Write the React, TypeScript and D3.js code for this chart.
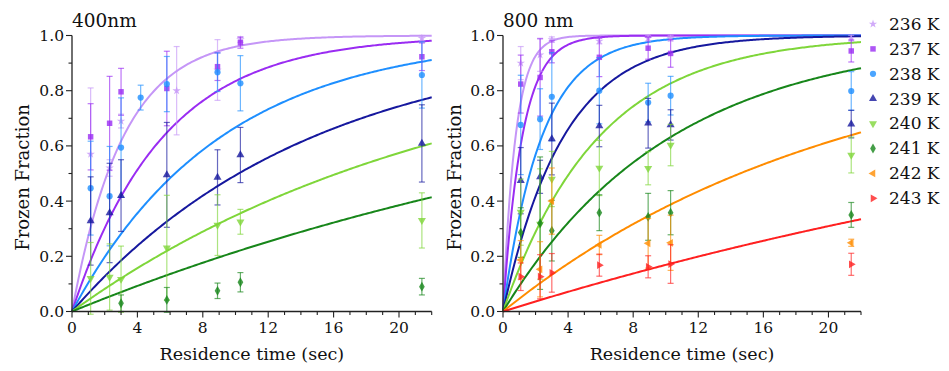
import React from 'react';
import * as d3 from 'd3';

// ---------- data ----------
const temps = ['236 K', '237 K', '238 K', '239 K', '240 K', '241 K', '242 K', '243 K'];
const colors = ['#c596f7', '#9a2cf2', '#1e8fff', '#16189e', '#7fd63a', '#17861a', '#ff8c00', '#ff2020'];
const xTicks = [0, 4, 8, 12, 16, 20];
const yTicks = [0, 0.2, 0.4, 0.6, 0.8, 1.0];

// fitted rate constants (1/s): F = 1 - exp(-k t)
const kLeft = [0.32, 0.18, 0.11, 0.068, 0.0427, 0.0243];
const kRight = [1.3, 0.85, 0.42, 0.27, 0.17, 0.097, 0.0476, 0.0185];

// measured points [time, fraction, error]
const left236 = [[1.14, 0.57, 0.24], [2.3, 0.52, 0.03], [3.0, 0.69, 0.025], [6.4, 0.80, 0.16], [8.9, 0.875, 0.11], [10.3, 0.985, 0.01], [21.4, 0.99, 0.01]];
const left237 = [[1.14, 0.633, 0.12], [2.3, 0.682, 0.17], [3.0, 0.796, 0.085], [5.8, 0.808, 0.135], [8.9, 0.887, 0.05], [10.3, 0.974, 0.02], [21.4, 0.923, 0.05]];
const left238 = [[1.14, 0.447, 0.17], [2.3, 0.418, 0.18], [3.0, 0.594, 0.18], [4.2, 0.775, 0.045], [5.8, 0.824, 0.1], [8.9, 0.867, 0.07], [10.3, 0.827, 0.1], [21.4, 0.857, 0.12]];
const left239 = [[1.14, 0.328, 0.16], [2.3, 0.357, 0.18], [3.0, 0.42, 0.13], [5.8, 0.495, 0.19], [8.9, 0.486, 0.1], [10.3, 0.567, 0.1], [21.4, 0.609, 0.14]];
const left240 = [[1.14, 0.12, 0.13], [2.3, 0.125, 0.12], [3.0, 0.117, 0.12], [5.8, 0.231, 0.19], [8.9, 0.313, 0.11], [10.3, 0.325, 0.045], [21.4, 0.33, 0.1]];
const left241 = [[3.0, 0.03, 0.03], [5.8, 0.042, 0.045], [8.9, 0.075, 0.028], [10.3, 0.106, 0.035], [21.4, 0.09, 0.03]];

const right236 = [[1.09, 0.90, 0.06], [2.28, 0.93, 0.06], [3.0, 0.985, 0.01], [5.92, 0.98, 0.01], [8.92, 0.99, 0.01], [10.3, 0.99, 0.01], [21.4, 0.99, 0.01]];
const right237 = [[1.09, 0.824, 0.105], [2.28, 0.848, 0.14], [3.0, 0.941, 0.04], [5.92, 0.921, 0.07], [8.92, 0.954, 0.04], [10.3, 0.935, 0.05], [21.4, 0.944, 0.04]];
const right238 = [[1.09, 0.676, 0.18], [2.28, 0.697, 0.11], [3.0, 0.778, 0.16], [5.92, 0.80, 0.12], [8.92, 0.757, 0.07], [10.3, 0.782, 0.07], [21.4, 0.799, 0.07]];
const right239 = [[1.09, 0.474, 0.12], [2.28, 0.488, 0.06], [3.0, 0.625, 0.13], [5.92, 0.672, 0.075], [8.92, 0.682, 0.09], [10.3, 0.676, 0.055], [21.4, 0.679, 0.05]];
const right240 = [[1.09, 0.36, 0.12], [2.28, 0.317, 0.2], [3.0, 0.48, 0.1], [5.92, 0.52, 0.1], [8.92, 0.519, 0.06], [10.3, 0.603, 0.075], [21.4, 0.567, 0.065]];
const right241 = [[1.09, 0.286, 0.09], [2.28, 0.32, 0.24], [3.0, 0.293, 0.11], [5.92, 0.358, 0.065], [8.92, 0.343, 0.085], [10.3, 0.358, 0.08], [21.4, 0.35, 0.045]];
const right242 = [[1.09, 0.187, 0.07], [2.28, 0.153, 0.1], [3.0, 0.40, 0.12], [5.92, 0.241, 0.035], [8.92, 0.247, 0.09], [10.3, 0.249, 0.1], [21.4, 0.249, 0.013]];
const right243 = [[1.09, 0.126, 0.05], [2.28, 0.126, 0.08], [3.0, 0.14, 0.07], [5.92, 0.168, 0.04], [8.92, 0.162, 0.04], [10.3, 0.172, 0.07], [21.4, 0.171, 0.04]];

const leftData = [left236, left237, left238, left239, left240, left241];
const rightData = [right236, right237, right238, right239, right240, right241, right242, right243];

// symbol per series: [d3 symbol, rotation, size]
const symbolDefs: [d3.SymbolType, number, number][] = [
  [d3.symbolStar, 0, 22],
  [d3.symbolSquare, 0, 30],
  [d3.symbolCircle, 0, 30],
  [d3.symbolTriangle, 0, 28],
  [d3.symbolTriangle, 180, 28],
  [d3.symbolDiamond, 0, 28],
  [d3.symbolTriangle, -90, 26],
  [d3.symbolTriangle, 90, 26],
];

const FONT = '"DejaVu Serif", serif';

type PanelProps = {
  x0: number; x1: number; title: string; data: number[][][]; ks: number[];
  labelX: number;
};

function Panel({ x0, x1, title, data, ks, labelX }: PanelProps) {
  const yTop = 35.5, yBot = 311.5;
  const x = d3.scaleLinear().domain([0, 22]).range([x0, x1]);
  const y = d3.scaleLinear().domain([0, 1]).range([yBot, yTop]);
  const ts = d3.range(0, 22.001, 0.1);
  const minorX = d3.range(0, 23, 1);
  const minorY = d3.range(0, 1.001, 0.1);
  return (
    <g>
      {ks.map((k, i) => {
        const path = d3.line<number>().x(t => x(t)).y(t => y(1 - Math.exp(-k * t)))(ts) || '';
        return <path key={'c' + i} d={path} fill="none" stroke={colors[i]} strokeWidth={2} />;
      })}
      {data.map((series, i) => {
        const [sym, rot, size] = symbolDefs[i];
        const sp = d3.symbol().type(sym).size(size)() || '';
        return (
          <g key={'s' + i}>
            {series.map(([t, v, e], j) => {
              const cx = x(t), cy = y(v);
              const yh = y(Math.min(v + e, 1.0)), yl = y(v - e);
              return (
                <g key={j}>
                  <g stroke={colors[i]} strokeOpacity={0.65} strokeWidth={1.2}>
                    <line x1={cx} x2={cx} y1={yh} y2={yl} />
                    <line x1={cx - 3} x2={cx + 3} y1={yh} y2={yh} />
                    <line x1={cx - 3} x2={cx + 3} y1={yl} y2={yl} />
                  </g>
                  <path d={sp} transform={`translate(${cx},${cy}) rotate(${rot})`} fill={colors[i]} fillOpacity={0.8} />
                </g>
              );
            })}
          </g>
        );
      })}
      <line x1={x0} x2={x1} y1={yBot} y2={yBot} stroke="#222" strokeWidth={1.3} />
      <line x1={x0} x2={x0} y1={yBot} y2={yTop} stroke="#222" strokeWidth={1.3} />
      {minorX.map(t => (
        <line key={'mx' + t} x1={x(t)} x2={x(t)} y1={yBot} y2={yBot + (t % 4 === 0 ? 6 : 3.5)} stroke="#222" strokeWidth={1.1} />
      ))}
      {minorY.map((v, i) => (
        <line key={'my' + i} x1={x0} x2={x0 - (i % 2 === 0 ? 6 : 3.5)} y1={y(v)} y2={y(v)} stroke="#222" strokeWidth={1.1} />
      ))}
      {xTicks.map(t => (
        <text key={'xt' + t} x={x(t)} y={333} textAnchor="middle" fontFamily={FONT} fontSize={15.5} fill="#111">{t}</text>
      ))}
      {yTicks.map(v => (
        <text key={'yt' + v} x={x0 - 8} y={y(v) + 5.5} textAnchor="end" fontFamily={FONT} fontSize={15.5} fill="#111">{v.toFixed(1)}</text>
      ))}
      <text x={(x0 + x(22)) / 2} y={360} textAnchor="middle" fontFamily={FONT} fontSize={17.5} fill="#111">Residence time (sec)</text>
      <text transform={`translate(${labelX},${(yTop + yBot) / 2 + 4}) rotate(-90)`} textAnchor="middle" fontFamily={FONT} fontSize={18} fill="#111">Frozen Fraction</text>
      <text x={x0} y={26.5} fontFamily={FONT} fontSize={18.5} fill="#111">{title}</text>
    </g>
  );
}

export default function App() {
  return (
    <svg width={949} height={371} style={{ position: 'absolute', left: 0, top: 0, background: '#fff' }}>
      <rect width={949} height={371} fill="#fff" />
      <Panel x0={72} x1={431.7} title="400nm" data={leftData} ks={kLeft} labelX={28.5} />
      <Panel x0={503} x1={861} title="800 nm" data={rightData} ks={kRight} labelX={461} />
      {temps.map((t, i) => {
        const [sym, rot, size] = symbolDefs[i];
        const sp = d3.symbol().type(sym).size(size)() || '';
        const cy = 24 + 24.9 * i;
        return (
          <g key={t}>
            <path d={sp} transform={`translate(873,${cy}) rotate(${rot})`} fill={colors[i]} fillOpacity={0.8} />
            <text x={889} y={cy + 5.8} fontFamily={FONT} fontSize={17} fill="#111">{t}</text>
          </g>
        );
      })}
    </svg>
  );
}
